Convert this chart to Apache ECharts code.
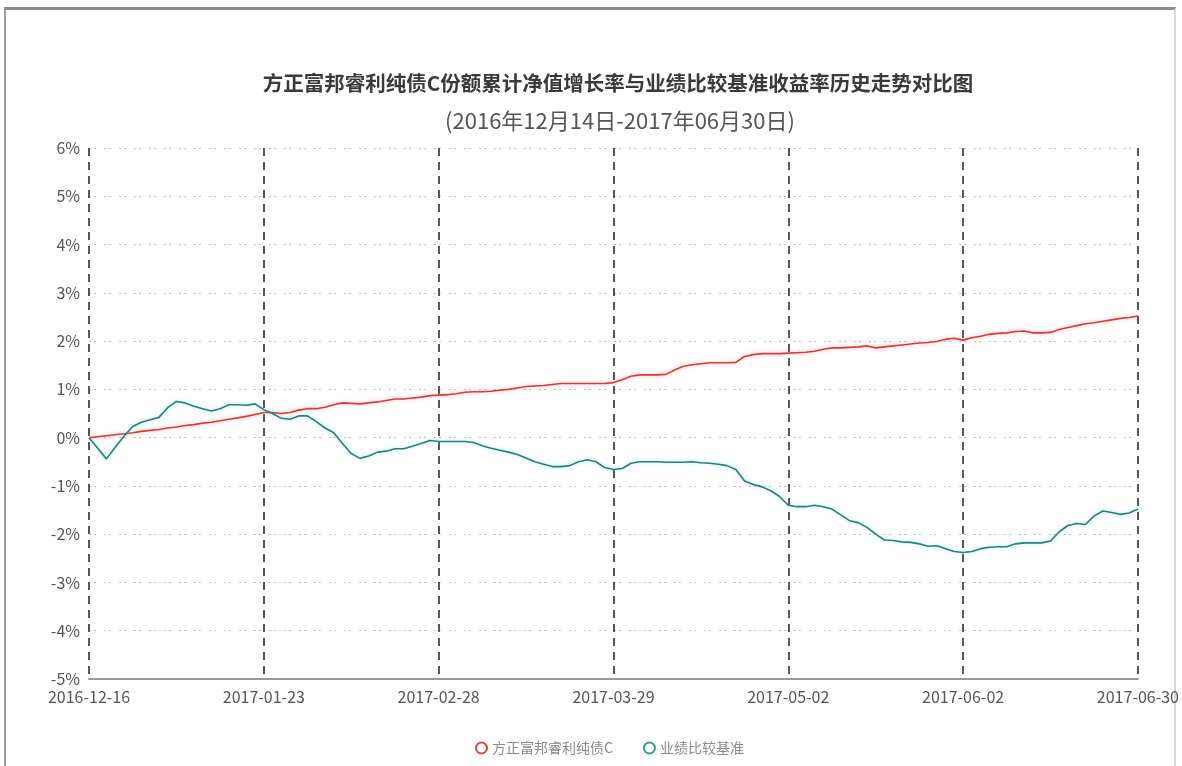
<!DOCTYPE html>
<html>
<head>
<meta charset="utf-8">
<script src="https://cdn.jsdelivr.net/npm/echarts@6/dist/echarts.min.js"></script>
<style>
html,body{margin:0;padding:0;background:#fff;}
#frame{position:absolute;left:4px;top:7px;width:1172px;height:780px;border-top:3px solid #8c8c8c;border-left:2px solid #9a9a9a;border-right:2px solid #d8d8d8;box-sizing:border-box;}
#chart{position:absolute;left:0;top:0;width:1182px;height:766px;}
</style>
</head>
<body>
<div id="frame"></div>
<div id="chart"></div>
<script>
const titleText = '方正富邦睿利纯债C份额累计净值增长率与业绩比较基准收益率历史走势对比图';
const subtitleText = '(2016年12月14日-2017年06月30日)';
const seriesNames = ['方正富邦睿利纯债C', '业绩比较基准'];
const xTickLabels = ['2016-12-16', '2017-01-23', '2017-02-28', '2017-03-29', '2017-05-02', '2017-06-02', '2017-06-30'];
const pointsPerTick = 20;

// 方正富邦睿利纯债C 累计净值增长率 (%)
const fundValues = [
  0, 0.02, 0.04, 0.06, 0.08, 0.1, 0.13, 0.15, 0.17, 0.2, 0.22, 0.25, 0.27, 0.3, 0.32, 0.35, 0.38, 0.41, 0.44, 0.48,
  0.52, 0.52, 0.5, 0.52, 0.57, 0.6, 0.6, 0.63, 0.68, 0.72, 0.71, 0.7, 0.72, 0.74, 0.77, 0.8, 0.8, 0.82, 0.84, 0.87,
  0.88, 0.89, 0.91, 0.94, 0.95, 0.95, 0.96, 0.98, 1.0, 1.03, 1.06, 1.07, 1.08, 1.1, 1.12, 1.12, 1.12, 1.12, 1.12, 1.12,
  1.14, 1.2, 1.27, 1.3, 1.3, 1.3, 1.31, 1.4, 1.48, 1.51, 1.53, 1.55, 1.55, 1.55, 1.56, 1.68, 1.72, 1.74, 1.74, 1.74,
  1.75, 1.76, 1.77, 1.79, 1.83, 1.86, 1.86, 1.87, 1.88, 1.9, 1.86, 1.88, 1.9, 1.92, 1.94, 1.96, 1.97, 1.99, 2.04, 2.06,
  2.02, 2.07, 2.1, 2.14, 2.16, 2.17, 2.2, 2.21, 2.17, 2.17, 2.18, 2.24, 2.28, 2.32, 2.36, 2.38, 2.41, 2.44, 2.47, 2.49,
  2.52
];
// 业绩比较基准收益率 (%)
const benchmarkValues = [
  0, -0.22, -0.44, -0.2, 0.03, 0.23, 0.32, 0.37, 0.42, 0.62, 0.75, 0.72, 0.65, 0.6, 0.55, 0.6, 0.68, 0.68, 0.67, 0.7,
  0.58, 0.5, 0.4, 0.38, 0.45, 0.45, 0.33, 0.2, 0.1, -0.12, -0.33, -0.43, -0.38, -0.3, -0.28, -0.23, -0.23, -0.18, -0.12, -0.06,
  -0.08, -0.08, -0.08, -0.08, -0.1, -0.17, -0.22, -0.26, -0.3, -0.35, -0.42, -0.5, -0.55, -0.6, -0.6, -0.58, -0.5, -0.46, -0.5, -0.62,
  -0.66, -0.64, -0.53, -0.5, -0.5, -0.5, -0.51, -0.51, -0.51, -0.5, -0.52, -0.53, -0.55, -0.58, -0.66, -0.9, -0.97, -1.02, -1.1, -1.22,
  -1.4, -1.43, -1.43, -1.4, -1.43, -1.48, -1.6, -1.72, -1.76, -1.86, -2.0, -2.12, -2.13, -2.16, -2.17, -2.2, -2.25, -2.24, -2.3, -2.36,
  -2.38, -2.36, -2.3, -2.27, -2.26, -2.26, -2.2, -2.18, -2.18, -2.18, -2.14, -1.95, -1.82, -1.78, -1.8, -1.62, -1.52, -1.55, -1.59, -1.56,
  -1.48
];
const yMin = -5, yMax = 6, yStep = 1;

const categories = fundValues.map((_, i) => String(i));
const font = "'Noto Sans CJK SC', 'Noto Sans', sans-serif";

const chart = echarts.init(document.getElementById('chart'), null, {renderer: 'canvas'});
chart.setOption({
  animation: false,
  backgroundColor: 'transparent',
  title: [
    {text: titleText, left: 613, top: 68, textAlign: 'center',
     textStyle: {fontFamily: font, fontSize: 20.5, fontWeight: 'bold', color: '#3a3a3a'}},
    {text: subtitleText, left: 615, top: 105, textAlign: 'center',
     textStyle: {fontFamily: font, fontSize: 22, fontWeight: 'normal', color: '#555'}}
  ],
  legend: {
    data: seriesNames,
    bottom: 6, left: 470,
    icon: 'emptyCircle', itemWidth: 11, itemHeight: 11, itemGap: 30,
    textStyle: {fontFamily: font, fontSize: 14, color: '#8a8a8a'}
  },
  grid: {left: 89, right: 43, top: 148, bottom: 87, containLabel: false},
  xAxis: {
    type: 'category', data: categories, boundaryGap: false,
    axisLine: {show: true, onZero: false, lineStyle: {color: '#9a9a9a', width: 2}},
    axisTick: {show: false},
    axisLabel: {
      interval: pointsPerTick - 1, showMinLabel: true, showMaxLabel: true,
      fontFamily: font, fontSize: 16, color: '#555', margin: 10,
      formatter: (v, i) => (i % pointsPerTick === 0 ? xTickLabels[i / pointsPerTick] : '')
    },
    splitLine: {show: true, interval: pointsPerTick - 1,
      lineStyle: {color: '#555', width: 2, type: [8, 6]}}
  },
  yAxis: {
    type: 'value', min: yMin, max: yMax, interval: yStep,
    axisLine: {show: false}, axisTick: {show: false},
    axisLabel: {formatter: '{value}%', fontFamily: font, fontSize: 16, color: '#555', margin: 9},
    splitLine: {show: true, lineStyle: {color: '#bdbdbd', width: 1, type: [2, 3, 2, 8]}}
  },
  series: [
    {name: seriesNames[0], type: 'line', data: fundValues, showSymbol: false, symbol: 'emptyCircle',
     itemStyle: {color: '#d94444'},
     lineStyle: {color: '#d63c3c', width: 1.6, shadowColor: 'rgba(255,120,130,0.55)', shadowBlur: 4}},
    {name: seriesNames[1], type: 'line', data: benchmarkValues, showSymbol: false, symbol: 'emptyCircle',
     itemStyle: {color: '#3a9a98'},
     lineStyle: {color: '#2f7d74', width: 1.6, shadowColor: 'rgba(80,220,225,0.55)', shadowBlur: 4}}
  ]
});
</script>
</body>
</html>
